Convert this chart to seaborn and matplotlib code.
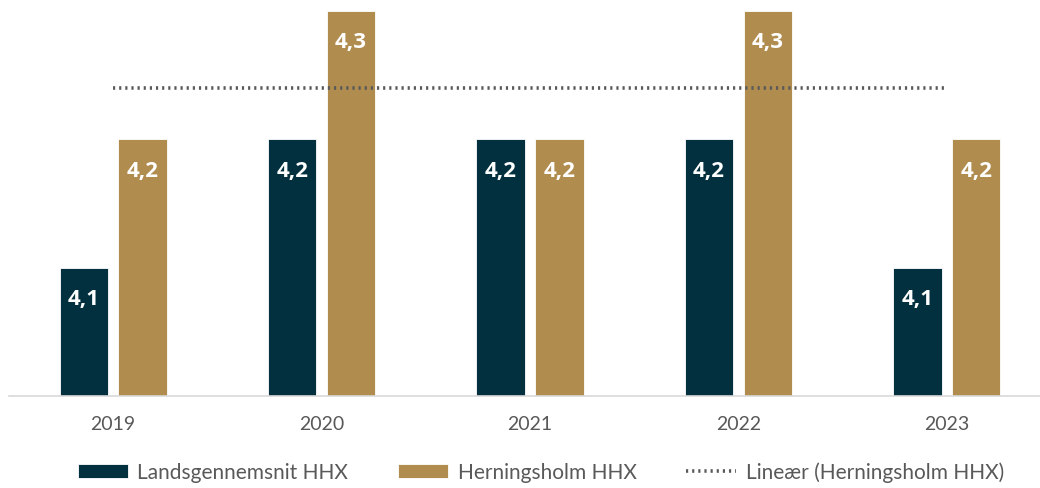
import numpy as np
import pandas as pd
import matplotlib.pyplot as plt
import seaborn as sns

# data
years = ["2019", "2020", "2021", "2022", "2023"]
lands_vals = [4.1, 4.2, 4.2, 4.2, 4.1]
herning_vals = [4.2, 4.3, 4.2, 4.3, 4.2]
series_names = ["Landsgennemsnit HHX", "Herningsholm HHX"]
trend_name = "Lineær (Herningsholm HHX)"

dark = "#03303F"
gold = "#B08C4F"
grey = "#595959"

df = pd.DataFrame({
    "year": years * 2,
    "value": lands_vals + herning_vals,
    "series": [series_names[0]] * len(years) + [series_names[1]] * len(years),
})

sns.set_style("white")
plt.rcParams["font.family"] = ["Lato", "DejaVu Sans"]

fig = plt.figure(figsize=(10.4, 4.89), dpi=100)
ax = fig.add_axes([9 / 1040, 92 / 489, 1042 / 1040, 385 / 489])

sns.barplot(data=df, x="year", y="value", hue="series",
            palette=[dark, gold], saturation=1, width=0.565, gap=0.18,
            edgecolor="white", linewidth=0.6, ax=ax)

# linear trend of Herningsholm
xs = np.arange(len(years))
k, m = np.polyfit(xs, herning_vals, 1)
ax.plot(xs, k * xs + m, linestyle=(0, (0.6, 1.1)), color=grey,
        linewidth=2.6, label=trend_name)

ax.set_ylim(4.0, 4.3)
ax.set_xlim(-0.5, len(years) - 0.5)

for cont in ax.containers:
    for bar in cont:
        h = bar.get_height()
        ax.annotate(f"{h:.1f}".replace(".", ","),
                    (bar.get_x() + bar.get_width() / 2, h),
                    xytext=(0, -31), textcoords="offset pixels",
                    ha="center", va="center", color="white",
                    fontsize=16, fontweight="bold",
                    family=["Open Sans", "DejaVu Sans"])

ax.set_xlabel("")
ax.set_ylabel("")
ax.set_yticks([])
ax.tick_params(axis="x", length=0, pad=14, labelsize=14, labelcolor=grey)
for s in ["top", "left", "right"]:
    ax.spines[s].set_visible(False)
ax.spines["bottom"].set_color("#D9D9D9")
ax.spines["bottom"].set_linewidth(1.2)

handles, labels = ax.get_legend_handles_labels()
if ax.legend_:
    ax.legend_.remove()
fig.legend(handles, labels, loc="center", bbox_to_anchor=(541 / 1040, 1 - 473 / 489),
           ncol=3, frameon=False, fontsize=15, labelcolor=grey,
           handlelength=2.4, handleheight=0.6, handletextpad=0.45,
           columnspacing=2.4)

fig.savefig("out.png", dpi=100)
